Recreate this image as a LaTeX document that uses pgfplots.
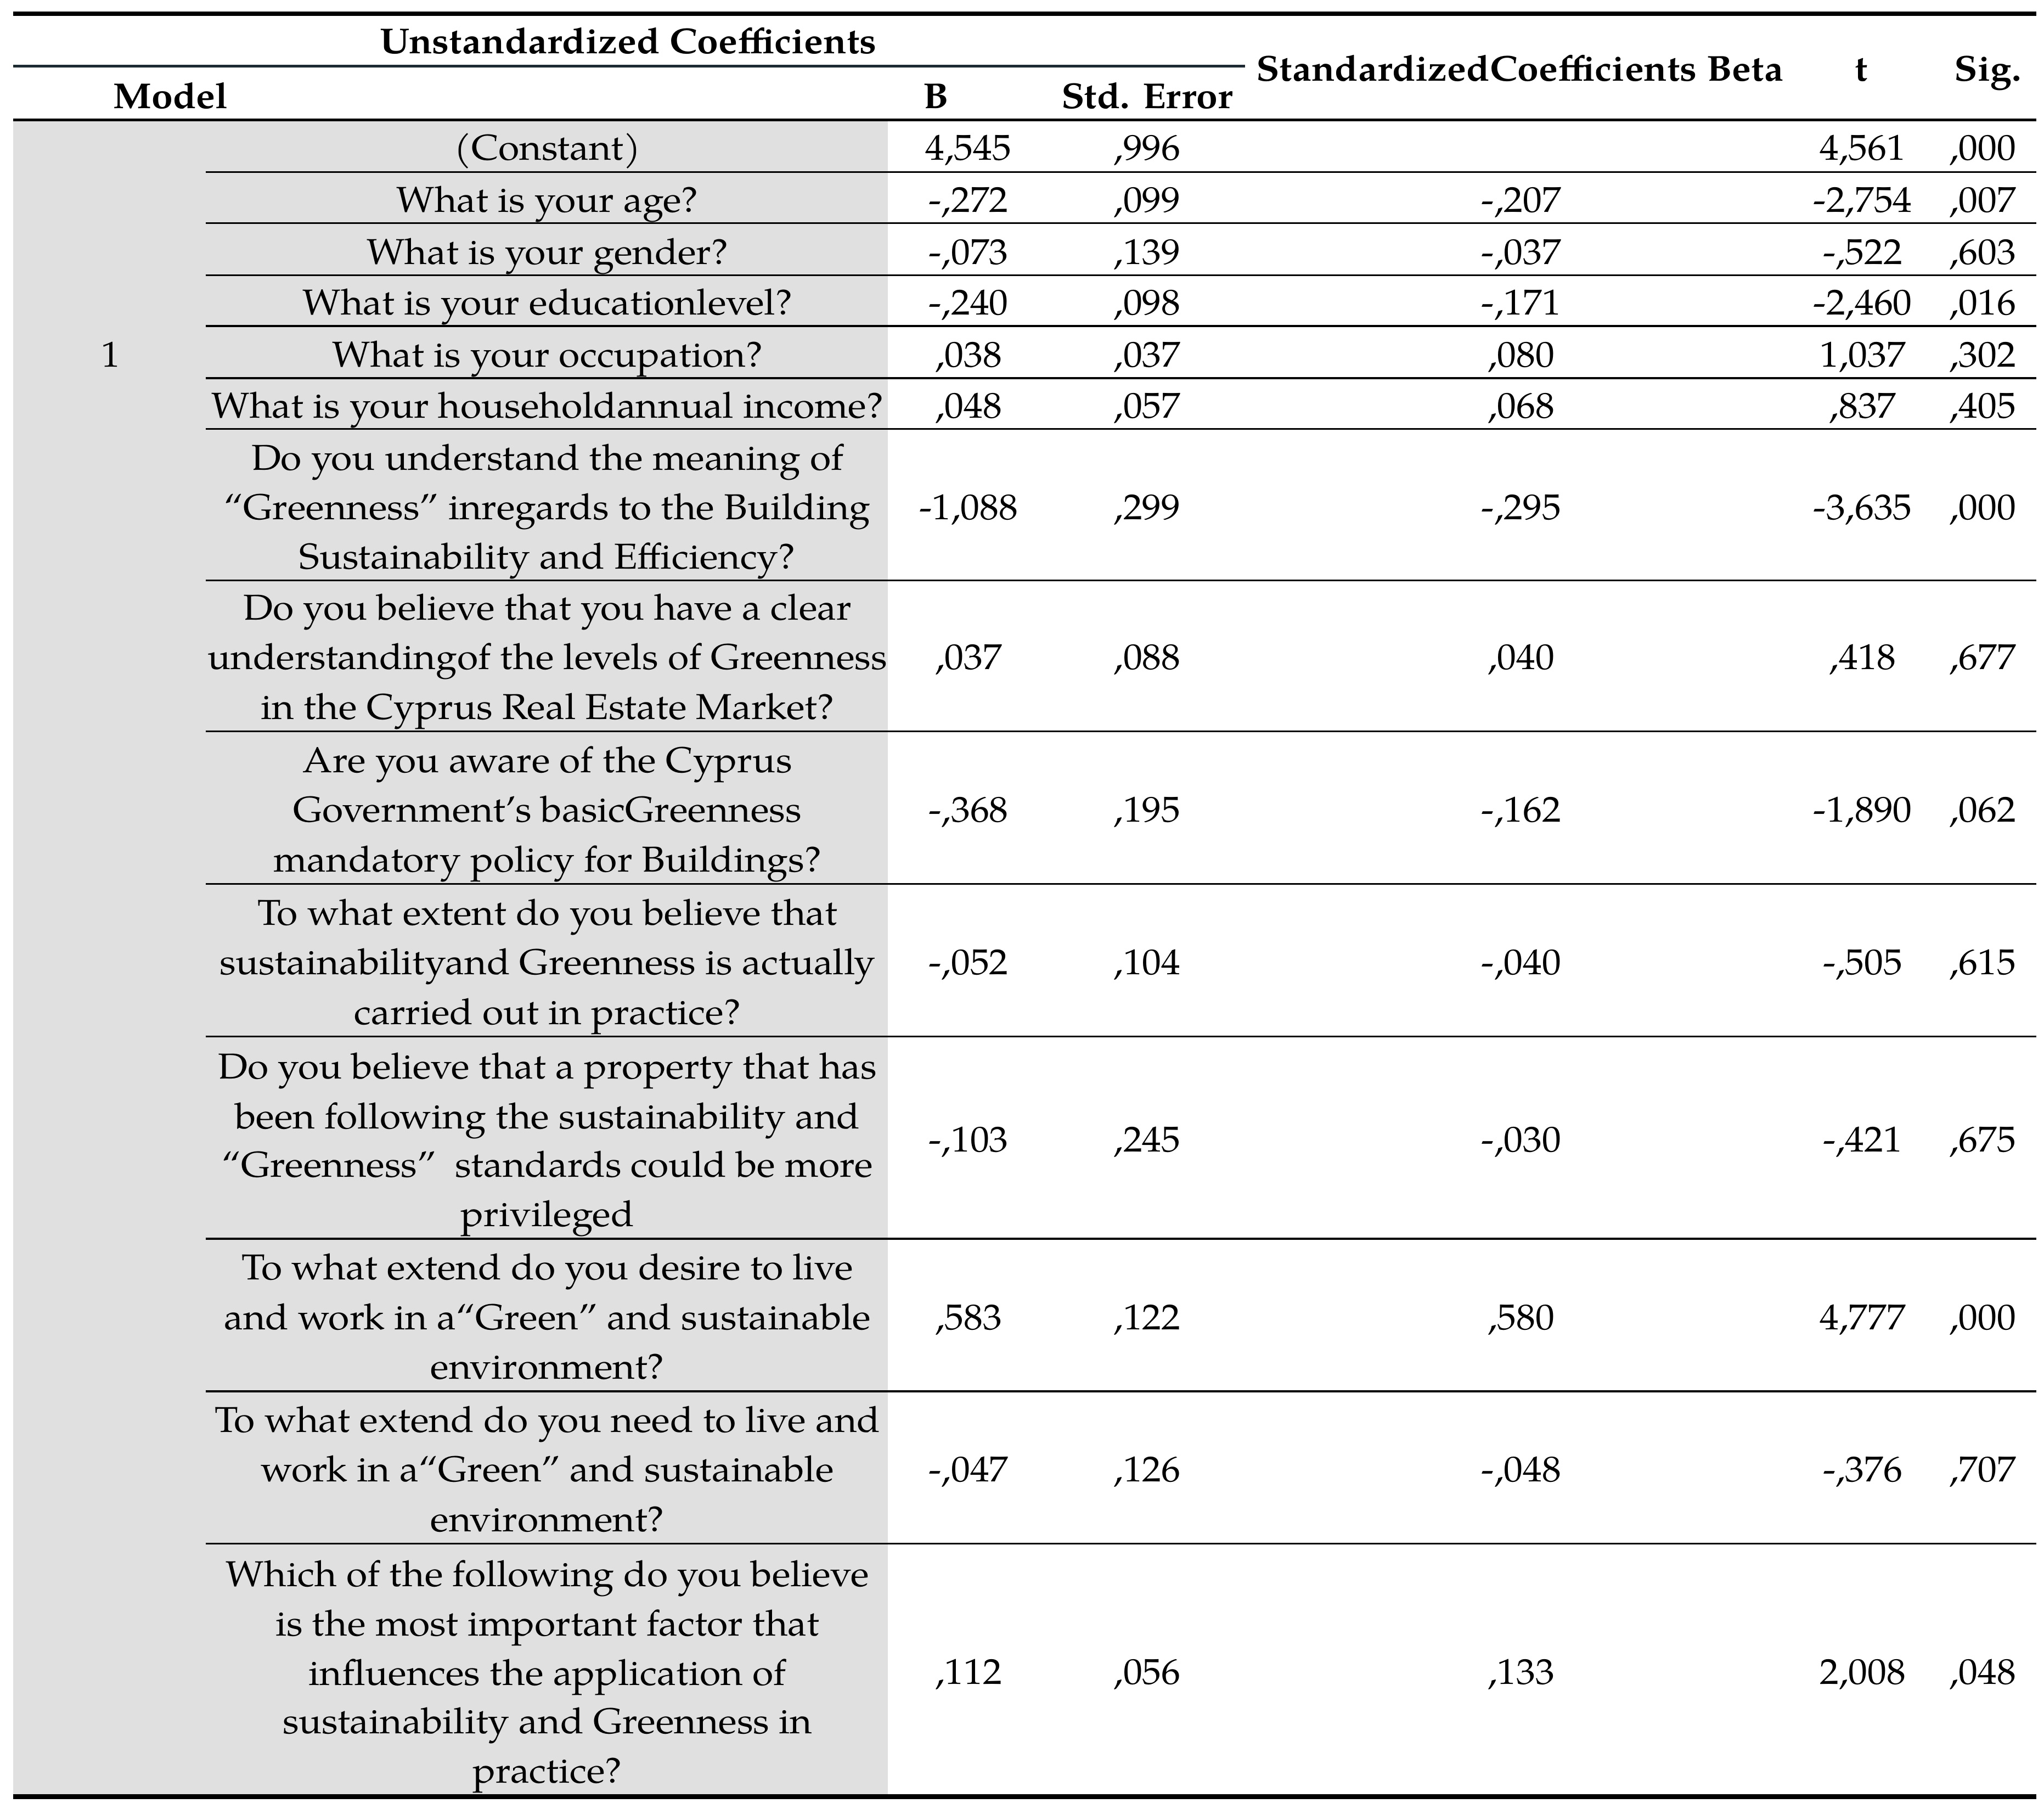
\documentclass[border=0pt]{standalone}
\usepackage{pgfplots}
\pgfplotsset{compat=1.18}
\usepackage{fontspec}
\setmainfont{TeX Gyre Pagella}[FakeStretch=1.063]
\definecolor{graybg}{HTML}{E0E0E0}
\definecolor{slate}{HTML}{1B2A33}
\newcommand\rowfont{\fontsize{13.8}{19}\selectfont}
\newcommand\TXT[3]{\node[anchor=base,inner sep=0pt,font=\rowfont] at (axis cs:#1,#2) {#3};}
\newcommand\HDR[3]{\node[anchor=base,inner sep=0pt,font=\rowfont\bfseries] at (axis cs:#1,#2) {#3};}
\newcommand\VAL[6]{\TXT{743}{#1}{#2}\TXT{880}{#1}{#3}\TXT{1167}{#1}{#4}\TXT{1429}{#1}{#5}\TXT{1521}{#1}{#6}}
\newcommand\RUL[1]{\draw[line width=0.7pt] (axis cs:158,#1) -- (axis cs:1562,#1);}
\begin{document}
\begin{tikzpicture}
\begin{axis}[width=784pt,height=693.5pt,scale only axis,hide axis,
  xmin=0,xmax=1568,ymin=0,ymax=1387,y dir=reverse,clip=false]
\addplot[draw=none] coordinates {(0,0) (1568,1387)};
\path (axis cs:0,0) rectangle (axis cs:1568,1387);
\fill[graybg] (axis cs:10,93) rectangle (axis cs:681,1377);
% rules
\draw[line width=1.7pt] (axis cs:10,10.5) -- (axis cs:1562,10.5);
\draw[line width=1pt,slate] (axis cs:10,50.7) -- (axis cs:955,50.7);
\draw[line width=1pt] (axis cs:10,92) -- (axis cs:1562,92);
\RUL{131.9}\RUL{171}\RUL{211}\RUL{250}\RUL{290}\RUL{329}\RUL{445}\RUL{561}\RUL{678}\RUL{795}\RUL{950}\RUL{1067}\RUL{1184}
\draw[line width=1.9pt] (axis cs:10,1378) -- (axis cs:1562,1378);
% header
\HDR{482}{41}{Unstandardized Coefficients}
\HDR{131}{83}{Model}
\HDR{718}{83}{B}
\HDR{880}{83}{Std. Error}
\HDR{1166}{62}{StandardizedCoefficients Beta}
\HDR{1428}{62}{t}
\HDR{1525}{62}{Sig.}
% model
\TXT{85}{281.5}{1}
% questions
\TXT{420}{122.5}{(Constant)}
\TXT{420}{162.5}{What is your age?}
\TXT{420}{202.5}{What is your gender?}
\TXT{420}{241.5}{What is your educationlevel?}
\TXT{420}{281.5}{What is your occupation?}
\TXT{420}{320.5}{What is your householdannual income?}
\TXT{420}{360.5}{Do you understand the meaning of}
\TXT{420}{398.5}{“Greenness” inregards to the Building}
\TXT{420}{436.5}{Sustainability and Efficiency?}
\TXT{420}{475.5}{Do you believe that you have a clear}
\TXT{420}{513.5}{understandingof the levels of Greenness}
\TXT{420}{551.5}{in the Cyprus Real Estate Market?}
\TXT{420}{592.5}{Are you aware of the Cyprus}
\TXT{420}{630.5}{Government’s basicGreenness}
\TXT{420}{668.5}{mandatory policy for Buildings?}
\TXT{420}{709.5}{To what extent do you believe that}
\TXT{420}{747.5}{sustainabilityand Greenness is actually}
\TXT{420}{785.5}{carried out in practice?}
\TXT{420}{827.5}{Do you believe that a property that has}
\TXT{420}{865.5}{been following the sustainability and}
\TXT{420}{902.5}{“Greenness”\ \ standards could be more}
\TXT{420}{940.5}{privileged}
\TXT{420}{981.5}{To what extend do you desire to live}
\TXT{420}{1019.5}{and work in a“Green” and sustainable}
\TXT{420}{1057.5}{environment?}
\TXT{420}{1098.5}{To what extend do you need to live and}
\TXT{420}{1136.5}{work in a“Green” and sustainable}
\TXT{420}{1174.5}{environment?}
\TXT{420}{1216.5}{Which of the following do you believe}
\TXT{420}{1254.5}{is the most important factor that}
\TXT{420}{1292.5}{influences the application of}
\TXT{420}{1329.5}{sustainability and Greenness in}
\TXT{420}{1367.5}{practice?}
% values
\VAL{122.5}{4,545}{,996}{}{4,561}{,000}
\VAL{162.5}{-,272}{,099}{-,207}{-2,754}{,007}
\VAL{202.5}{-,073}{,139}{-,037}{-,522}{,603}
\VAL{241.5}{-,240}{,098}{-,171}{-2,460}{,016}
\VAL{281.5}{,038}{,037}{,080}{1,037}{,302}
\VAL{320.5}{,048}{,057}{,068}{,837}{,405}
\VAL{398.5}{-1,088}{,299}{-,295}{-3,635}{,000}
\VAL{513.5}{,037}{,088}{,040}{,418}{,677}
\VAL{630.5}{-,368}{,195}{-,162}{-1,890}{,062}
\VAL{747.5}{-,052}{,104}{-,040}{-,505}{,615}
\VAL{883.5}{-,103}{,245}{-,030}{-,421}{,675}
\VAL{1019.5}{,583}{,122}{,580}{4,777}{,000}
\VAL{1136.5}{-,047}{,126}{-,048}{-,376}{,707}
\VAL{1291.5}{,112}{,056}{,133}{2,008}{,048}
\end{axis}
\end{tikzpicture}
\end{document}
